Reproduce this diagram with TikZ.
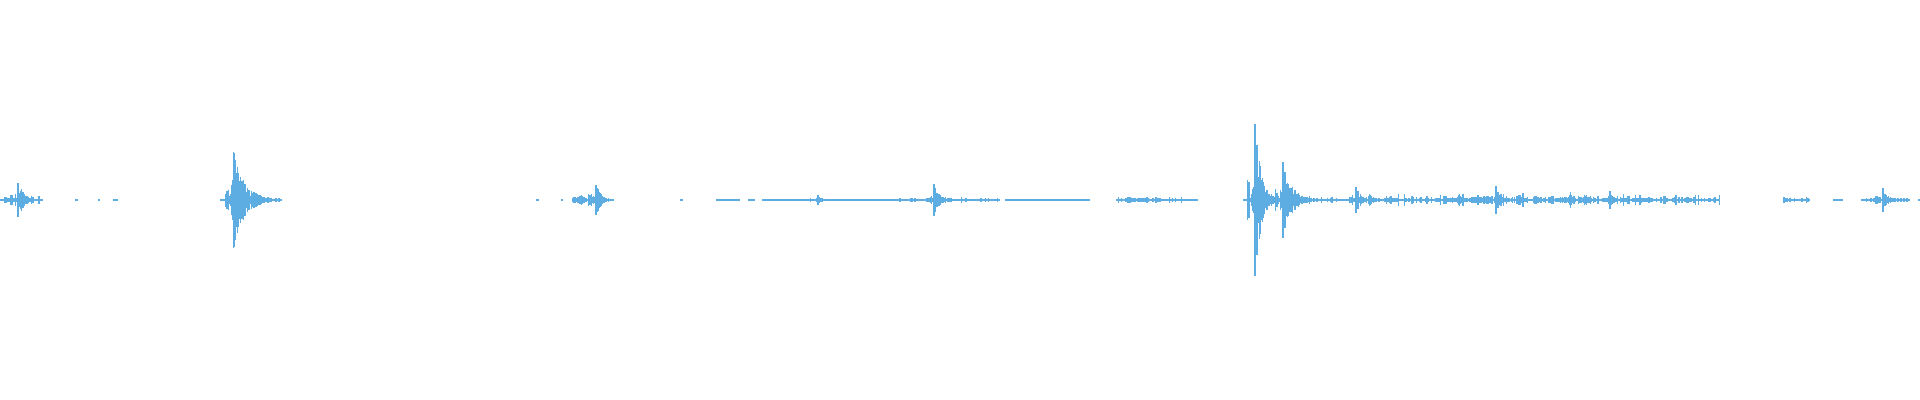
\documentclass[tikz,border=0pt]{standalone}
\usepackage{tikz}
\definecolor{wave}{HTML}{5DADE2}
\tikzset{
  wave line/.style={wave, line width=0.35pt},
  base line/.style={wave, line width=0.5pt},
}
% burst: x0, amplitude, length (px)
\newcommand{\burst}[3]{%
  \foreach \i in {0,...,#3}{%
    \pgfmathsetmacro{\hh}{#2*exp(-\i/(#3/4+1))*(0.25+0.75*rnd)+1}
    \pgfmathsetmacro{\xx}{#1+\i*0.7}
    \draw[wave line] (\xx,200-\hh) -- (\xx,200+\hh);
  }%
  \foreach \i in {1,...,6}{%
    \pgfmathsetmacro{\hh}{#2*0.25*rnd+1}
    \pgfmathsetmacro{\xx}{#1-\i*1.2}
    \draw[wave line] (\xx,200-\hh) -- (\xx,200+\hh);
  }%
}
% noise: x0, x1, amplitude
\newcommand{\noise}[3]{%
  \pgfmathsetmacro{\nn}{int((#2-#1)/1.5)}
  \foreach \i in {0,...,\nn}{%
    \pgfmathsetmacro{\hh}{#3*rnd*rnd+0.8}
    \pgfmathsetmacro{\xx}{#1+\i*1.5}
    \draw[wave line] (\xx,200-\hh) -- (\xx,200+\hh);
  }%
}
\begin{document}
\begin{tikzpicture}[x=0.01cm,y=-0.01cm]
  \pgfmathsetseed{7}
  \useasboundingbox (0,0) rectangle (1920,400);

  % baseline pieces
  \foreach \a/\b in {0/43, 75/78, 98/100, 113/118, 220/282, 536/539, 561/563, 576/614,
      680/683, 716/740, 748/755, 762/1000, 1005/1090, 1117/1198, 1243/1347, 1347/1720,
      1784/1810, 1833/1843, 1861/1910, 1918/1920}
    \draw[base line] (\a,200) -- (\b,200);

  % quiet noise
  \noise{0}{40}{4}
  \noise{225}{280}{3}
  \noise{580}{612}{3}
  \noise{900}{1000}{2}
  \noise{1117}{1195}{3}
  \noise{1245}{1340}{6}
  \noise{1370}{1720}{6}
  \noise{1784}{1808}{3}
  \noise{1862}{1908}{3}

  % bursts
  \burst{18}{25}{20}
  \burst{233}{59}{55}
  \burst{580}{10}{12}
  \burst{596}{21}{18}
  \burst{818}{4}{15}
  \burst{934}{15}{25}
  \burst{1128}{5}{15}
  \burst{1255}{78}{30}
  \burst{1283}{44}{40}
  \burst{1356}{19}{15}
  \burst{1369}{9}{12}
  \burst{1459}{8}{10}
  \burst{1477}{8}{10}
  \burst{1496}{21}{15}
  \burst{1519}{8}{10}
  \burst{1570}{9}{10}
  \burst{1585}{8}{12}
  \burst{1610}{9}{12}
  \burst{1640}{6}{10}
  \burst{1883}{15}{18}
\end{tikzpicture}
\end{document}
